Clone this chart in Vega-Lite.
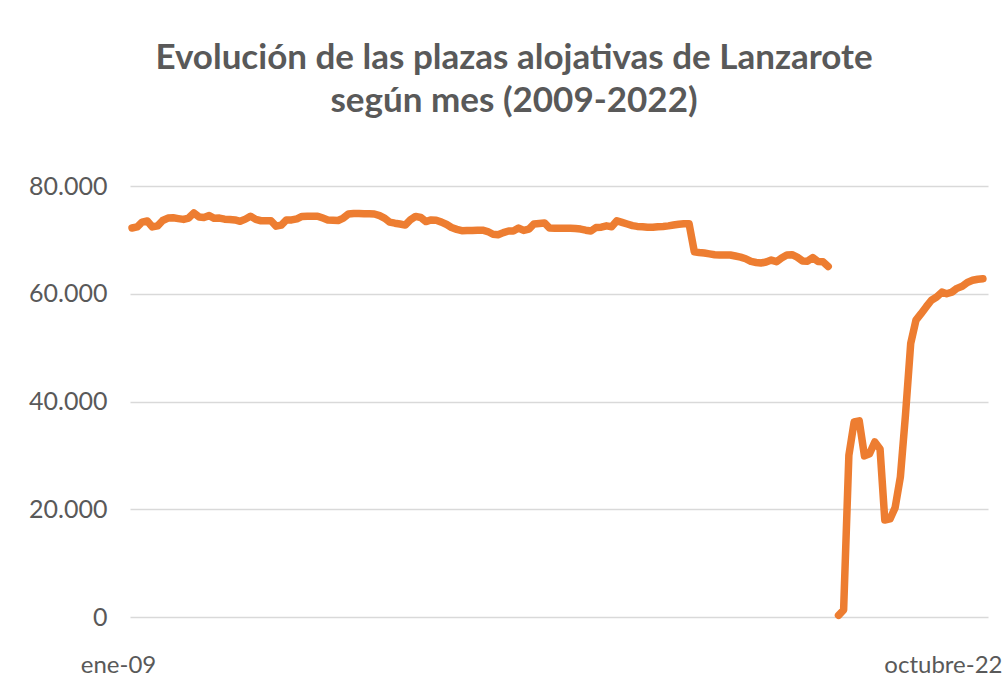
{
  "$schema": "https://vega.github.io/schema/vega-lite/v6.json",
  "width": 858,
  "height": 431,
  "autosize": {"type": "none"},
  "padding": {"left": 130, "top": 186, "right": 16, "bottom": 83},
  "background": "#ffffff",
  "title": {
    "text": ["Evolución de las plazas alojativas de Lanzarote", "según mes (2009-2022)"],
    "font": "Lato",
    "fontSize": 35,
    "fontWeight": "bold",
    "color": "#595959",
    "lineHeight": 43,
    "anchor": "middle",
    "offset": 55,
    "dx": -45
  },
  "config": {
    "view": {"stroke": null},
    "axis": {"labelFont": "Lato", "labelColor": "#595959", "domain": false, "ticks": false, "title": null}
  },
  "data": {
    "values": [
      {"mes": "2009-01-01", "plazas": 72200}, {"mes": "2009-02-01", "plazas": 72400}, {"mes": "2009-03-01", "plazas": 73300}, {"mes": "2009-04-01", "plazas": 73500},
      {"mes": "2009-05-01", "plazas": 72400}, {"mes": "2009-06-01", "plazas": 72600}, {"mes": "2009-07-01", "plazas": 73600}, {"mes": "2009-08-01", "plazas": 74050},
      {"mes": "2009-09-01", "plazas": 74100}, {"mes": "2009-10-01", "plazas": 73950}, {"mes": "2009-11-01", "plazas": 73800}, {"mes": "2009-12-01", "plazas": 74050},
      {"mes": "2010-01-01", "plazas": 75000}, {"mes": "2010-02-01", "plazas": 74250}, {"mes": "2010-03-01", "plazas": 74150}, {"mes": "2010-04-01", "plazas": 74500},
      {"mes": "2010-05-01", "plazas": 74000}, {"mes": "2010-06-01", "plazas": 74050}, {"mes": "2010-07-01", "plazas": 73850}, {"mes": "2010-08-01", "plazas": 73800},
      {"mes": "2010-09-01", "plazas": 73700}, {"mes": "2010-10-01", "plazas": 73450}, {"mes": "2010-11-01", "plazas": 73850}, {"mes": "2010-12-01", "plazas": 74400},
      {"mes": "2011-01-01", "plazas": 73800}, {"mes": "2011-02-01", "plazas": 73550}, {"mes": "2011-03-01", "plazas": 73550}, {"mes": "2011-04-01", "plazas": 73550},
      {"mes": "2011-05-01", "plazas": 72550}, {"mes": "2011-06-01", "plazas": 72750}, {"mes": "2011-07-01", "plazas": 73700}, {"mes": "2011-08-01", "plazas": 73700},
      {"mes": "2011-09-01", "plazas": 73900}, {"mes": "2011-10-01", "plazas": 74350}, {"mes": "2011-11-01", "plazas": 74400}, {"mes": "2011-12-01", "plazas": 74400},
      {"mes": "2012-01-01", "plazas": 74400}, {"mes": "2012-02-01", "plazas": 74050}, {"mes": "2012-03-01", "plazas": 73700}, {"mes": "2012-04-01", "plazas": 73650},
      {"mes": "2012-05-01", "plazas": 73600}, {"mes": "2012-06-01", "plazas": 74050}, {"mes": "2012-07-01", "plazas": 74800}, {"mes": "2012-08-01", "plazas": 74900},
      {"mes": "2012-09-01", "plazas": 74900}, {"mes": "2012-10-01", "plazas": 74850}, {"mes": "2012-11-01", "plazas": 74850}, {"mes": "2012-12-01", "plazas": 74800},
      {"mes": "2013-01-01", "plazas": 74500}, {"mes": "2013-02-01", "plazas": 74000}, {"mes": "2013-03-01", "plazas": 73300}, {"mes": "2013-04-01", "plazas": 73100},
      {"mes": "2013-05-01", "plazas": 72950}, {"mes": "2013-06-01", "plazas": 72750}, {"mes": "2013-07-01", "plazas": 73700}, {"mes": "2013-08-01", "plazas": 74350},
      {"mes": "2013-09-01", "plazas": 74150}, {"mes": "2013-10-01", "plazas": 73400}, {"mes": "2013-11-01", "plazas": 73700}, {"mes": "2013-12-01", "plazas": 73650},
      {"mes": "2014-01-01", "plazas": 73300}, {"mes": "2014-02-01", "plazas": 72850}, {"mes": "2014-03-01", "plazas": 72300}, {"mes": "2014-04-01", "plazas": 71950},
      {"mes": "2014-05-01", "plazas": 71700}, {"mes": "2014-06-01", "plazas": 71750}, {"mes": "2014-07-01", "plazas": 71750}, {"mes": "2014-08-01", "plazas": 71800},
      {"mes": "2014-09-01", "plazas": 71800}, {"mes": "2014-10-01", "plazas": 71550}, {"mes": "2014-11-01", "plazas": 71050}, {"mes": "2014-12-01", "plazas": 70950},
      {"mes": "2015-01-01", "plazas": 71350}, {"mes": "2015-02-01", "plazas": 71650}, {"mes": "2015-03-01", "plazas": 71650}, {"mes": "2015-04-01", "plazas": 72200},
      {"mes": "2015-05-01", "plazas": 71750}, {"mes": "2015-06-01", "plazas": 72000}, {"mes": "2015-07-01", "plazas": 72950}, {"mes": "2015-08-01", "plazas": 73050},
      {"mes": "2015-09-01", "plazas": 73150}, {"mes": "2015-10-01", "plazas": 72200}, {"mes": "2015-11-01", "plazas": 72150}, {"mes": "2015-12-01", "plazas": 72150},
      {"mes": "2016-01-01", "plazas": 72150}, {"mes": "2016-02-01", "plazas": 72150}, {"mes": "2016-03-01", "plazas": 72100}, {"mes": "2016-04-01", "plazas": 72000},
      {"mes": "2016-05-01", "plazas": 71800}, {"mes": "2016-06-01", "plazas": 71650}, {"mes": "2016-07-01", "plazas": 72300}, {"mes": "2016-08-01", "plazas": 72350},
      {"mes": "2016-09-01", "plazas": 72600}, {"mes": "2016-10-01", "plazas": 72450}, {"mes": "2016-11-01", "plazas": 73550}, {"mes": "2016-12-01", "plazas": 73250},
      {"mes": "2017-01-01", "plazas": 72950}, {"mes": "2017-02-01", "plazas": 72650}, {"mes": "2017-03-01", "plazas": 72500}, {"mes": "2017-04-01", "plazas": 72450},
      {"mes": "2017-05-01", "plazas": 72350}, {"mes": "2017-06-01", "plazas": 72350}, {"mes": "2017-07-01", "plazas": 72450}, {"mes": "2017-08-01", "plazas": 72500},
      {"mes": "2017-09-01", "plazas": 72600}, {"mes": "2017-10-01", "plazas": 72750}, {"mes": "2017-11-01", "plazas": 72900}, {"mes": "2017-12-01", "plazas": 73000},
      {"mes": "2018-01-01", "plazas": 73000}, {"mes": "2018-02-01", "plazas": 67800}, {"mes": "2018-03-01", "plazas": 67650}, {"mes": "2018-04-01", "plazas": 67550},
      {"mes": "2018-05-01", "plazas": 67400}, {"mes": "2018-06-01", "plazas": 67250}, {"mes": "2018-07-01", "plazas": 67200}, {"mes": "2018-08-01", "plazas": 67200},
      {"mes": "2018-09-01", "plazas": 67200}, {"mes": "2018-10-01", "plazas": 67000}, {"mes": "2018-11-01", "plazas": 66800}, {"mes": "2018-12-01", "plazas": 66500},
      {"mes": "2019-01-01", "plazas": 66000}, {"mes": "2019-02-01", "plazas": 65800}, {"mes": "2019-03-01", "plazas": 65700}, {"mes": "2019-04-01", "plazas": 65900},
      {"mes": "2019-05-01", "plazas": 66250}, {"mes": "2019-06-01", "plazas": 65950}, {"mes": "2019-07-01", "plazas": 66650}, {"mes": "2019-08-01", "plazas": 67200},
      {"mes": "2019-09-01", "plazas": 67250}, {"mes": "2019-10-01", "plazas": 66800}, {"mes": "2019-11-01", "plazas": 66100}, {"mes": "2019-12-01", "plazas": 66050},
      {"mes": "2020-01-01", "plazas": 66700}, {"mes": "2020-02-01", "plazas": 66000}, {"mes": "2020-03-01", "plazas": 65950}, {"mes": "2020-04-01", "plazas": 65050},
      {"mes": "2020-05-01", "plazas": null}, {"mes": "2020-06-01", "plazas": 300}, {"mes": "2020-07-01", "plazas": 1300}, {"mes": "2020-08-01", "plazas": 30000},
      {"mes": "2020-09-01", "plazas": 36200}, {"mes": "2020-10-01", "plazas": 36400}, {"mes": "2020-11-01", "plazas": 29900}, {"mes": "2020-12-01", "plazas": 30300},
      {"mes": "2021-01-01", "plazas": 32500}, {"mes": "2021-02-01", "plazas": 31200}, {"mes": "2021-03-01", "plazas": 18000}, {"mes": "2021-04-01", "plazas": 18200},
      {"mes": "2021-05-01", "plazas": 20300}, {"mes": "2021-06-01", "plazas": 26000}, {"mes": "2021-07-01", "plazas": 37500}, {"mes": "2021-08-01", "plazas": 50800},
      {"mes": "2021-09-01", "plazas": 55100}, {"mes": "2021-10-01", "plazas": 56300}, {"mes": "2021-11-01", "plazas": 57600}, {"mes": "2021-12-01", "plazas": 58800},
      {"mes": "2022-01-01", "plazas": 59400}, {"mes": "2022-02-01", "plazas": 60300}, {"mes": "2022-03-01", "plazas": 60000}, {"mes": "2022-04-01", "plazas": 60300},
      {"mes": "2022-05-01", "plazas": 61000}, {"mes": "2022-06-01", "plazas": 61400}, {"mes": "2022-07-01", "plazas": 62100}, {"mes": "2022-08-01", "plazas": 62500},
      {"mes": "2022-09-01", "plazas": 62700}, {"mes": "2022-10-01", "plazas": 62800}
    ]
  },
  "mark": {"type": "line", "color": "#ED7D31", "strokeWidth": 7.5, "strokeCap": "round", "strokeJoin": "round", "invalid": "break-paths-show-domains", "clip": false},
  "encoding": {
    "x": {
      "field": "mes",
      "type": "temporal",
      "scale": {"domain": [{"year": 2008, "month": 12, "date": 20, "utc": true}, {"year": 2022, "month": 10, "date": 31, "utc": true}]},
      "axis": {
        "values": [{"year": 2009, "month": 1, "date": 1, "utc": true}, {"year": 2022, "month": 10, "date": 1, "utc": true}],
        "labelExpr": "datum.value < datetime(2015, 0, 1) ? 'ene-09' : 'octubre-22'",
        "labelFontSize": 24,
        "labelPadding": 36,
        "labelBound": false,
        "labelFlush": false,
        "labelOverlap": false,
        "labelOffset": {"condition": {"test": "datum.value < datetime(2015, 0, 1)", "value": -14}, "value": -40},
        "grid": false
      }
    },
    "y": {
      "field": "plazas",
      "type": "quantitative",
      "scale": {"domain": [0, 80000], "nice": false},
      "axis": {
        "values": [0, 20000, 40000, 60000, 80000],
        "labelExpr": "replace(format(datum.value, ','), ',', '.')",
        "labelFontSize": 25,
        "labelPadding": 23,
        "gridColor": "#d9d9d9",
        "gridWidth": 1.3
      }
    }
  }
}
